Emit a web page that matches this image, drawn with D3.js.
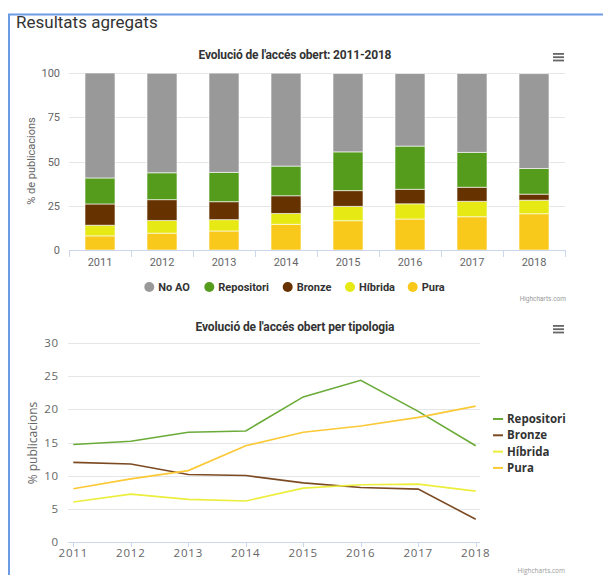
<!DOCTYPE html>
<html>
<head>
<meta charset="utf-8">
<script src="https://cdn.jsdelivr.net/npm/d3@7"></script>
<style>
body{margin:0;background:#fff;}
svg{display:block;font-family:Roboto, "Open Sans", sans-serif;}
</style>
</head>
<body>
<svg id="c" width="603" height="575"></svg>
<script>
// ---- data ----
const years = ["2011","2012","2013","2014","2015","2016","2017","2018"];
const noAO       = [59.3, 56.2, 56.1, 52.5, 44.3, 41.0, 44.6, 53.6];
const repositori = [14.7, 15.2, 16.55, 16.75, 21.9, 24.4, 19.7, 14.5];
const bronze     = [12.0, 11.75, 10.15, 10.0, 8.9, 8.2, 7.95, 3.4];
const hibrida    = [6.0, 7.2, 6.4, 6.15, 8.1, 8.6, 8.7, 7.65];
const pura       = [8.0, 9.5, 10.75, 14.5, 16.55, 17.5, 18.8, 20.5];
const barTicks = [0,25,50,75,100];
const lineTicks = [0,5,10,15,20,25,30];

const barSeries = [
  {name:"No AO", values:noAO, color:"#999999"},
  {name:"Repositori", values:repositori, color:"#559c1d"},
  {name:"Bronze", values:bronze, color:"#663300"},
  {name:"Híbrida", values:hibrida, color:"#e6e914"},
  {name:"Pura", values:pura, color:"#f8c81a"}
];
const lineSeries = [
  {name:"Repositori", values:repositori, color:"#6aab38"},
  {name:"Bronze", values:bronze, color:"#7b4a22"},
  {name:"Híbrida", values:hibrida, color:"#ecee3c"},
  {name:"Pura", values:pura, color:"#fbc935"}
];

const svg = d3.select("#c");

// frame
svg.append("line").attr("x1",8).attr("x2",603).attr("y1",14.5).attr("y2",14.5).attr("stroke","#6b9be3").attr("stroke-width",2);
svg.append("line").attr("x1",9).attr("x2",9).attr("y1",14).attr("y2",575).attr("stroke","#6b9be3").attr("stroke-width",2);
svg.append("text").attr("x",16).attr("y",28).attr("font-size",17).attr("fill","#333").text("Resultats agregats");

function menu(x,y){
  for(let i=0;i<3;i++) svg.append("rect").attr("x",x).attr("y",y+i*3.3).attr("width",11).attr("height",1.8).attr("fill","#666");
}

// ---- Chart 1: stacked columns ----
const g1 = svg.append("g");
const x1 = d3.scaleBand().domain(years).range([69,565]).paddingInner(0.516).paddingOuter(0.258);
const x1o = d3.scaleBand().domain(years).range([69,565]).padding(0);
const y1 = d3.scaleLinear().domain([0,100]).range([250,73]);

g1.append("text").attr("x",295).attr("y",59).attr("text-anchor","middle").attr("font-size",12).attr("font-weight","bold").attr("fill","#333").attr("textLength",193).text("Evolució de l'accés obert: 2011-2018");
menu(553,53);

g1.selectAll(".grid").data(barTicks.filter(d=>d>0)).join("line")
  .attr("x1",69).attr("x2",565).attr("y1",d=>Math.round(y1(d))+0.5).attr("y2",d=>Math.round(y1(d))+0.5)
  .attr("stroke","#e6e6e6");
g1.selectAll(".yl").data(barTicks).join("text")
  .attr("x",60).attr("y",d=>y1(d)+4).attr("text-anchor","end").attr("font-size",11).attr("fill","#666").text(d=>d);
g1.append("text").attr("transform","translate(35,161) rotate(-90)").attr("text-anchor","middle").attr("font-size",11).attr("fill","#666").text("% de publicacions");

// stack order: Pura at bottom
const stackOrder = barSeries.slice().reverse();
years.forEach((yr,i)=>{
  let base=0;
  stackOrder.forEach(s=>{
    const v=s.values[i];
    g1.append("rect").attr("x",x1(yr)).attr("width",x1.bandwidth())
      .attr("y",y1(base+v)).attr("height",y1(base)-y1(base+v))
      .attr("fill",s.color).attr("stroke","#fff").attr("stroke-opacity",0.6).attr("stroke-width",1);
    base+=v;
  });
});

// x axis
g1.append("line").attr("x1",69).attr("x2",565).attr("y1",250.5).attr("y2",250.5).attr("stroke","#ccd6eb");
const bounds = years.map(d=>x1o(d)).concat([565]);
g1.selectAll(".xt").data(bounds).join("line")
  .attr("x1",d=>Math.round(d)+0.5).attr("x2",d=>Math.round(d)+0.5).attr("y1",250).attr("y2",257).attr("stroke","#ccd6eb");
g1.selectAll(".xl").data(years).join("text")
  .attr("x",d=>x1(d)+x1.bandwidth()/2).attr("y",266).attr("text-anchor","middle").attr("font-size",11).attr("fill","#666").text(d=>d);

// legend
const legX = [149.3,209.3,287.7,350,412.7];
barSeries.forEach((s,i)=>{
  g1.append("circle").attr("cx",legX[i]).attr("cy",287).attr("r",5).attr("fill",s.color);
  g1.append("text").attr("x",legX[i]+9).attr("y",291).attr("font-size",11).attr("font-weight","bold").attr("fill","#333").text(s.name);
});
g1.append("text").attr("x",566).attr("y",301).attr("text-anchor","end").attr("font-size",6.5).attr("fill","#999").text("Highcharts.com");

// ---- Chart 2: lines ----
const g2 = svg.append("g").attr("font-family","'Open Sans', sans-serif");
const x2 = d3.scalePoint().domain(years).range([73.3,475.7]);
const y2 = d3.scaleLinear().domain([0,30]).range([541.7,343.3]);

g2.append("text").attr("x",295).attr("y",331).attr("text-anchor","middle").attr("font-size",12).attr("font-weight","bold").attr("fill","#333").attr("font-family","Roboto, sans-serif").attr("textLength",199).text("Evolució de l'accés obert per tipologia");
menu(553,325);

g2.selectAll(".grid").data(lineTicks.filter(d=>d>0)).join("line")
  .attr("x1",68).attr("x2",480).attr("y1",d=>Math.round(y2(d))+0.5).attr("y2",d=>Math.round(y2(d))+0.5)
  .attr("stroke","#e6e6e6");
g2.selectAll(".yl").data(lineTicks).join("text")
  .attr("x",59).attr("y",d=>y2(d)+4).attr("text-anchor","end").attr("font-size",11.5).attr("letter-spacing",0.8).attr("fill","#666").text(d=>d);
g2.append("text").attr("transform","translate(37,443) rotate(-90)").attr("text-anchor","middle").attr("font-size",12).attr("fill","#666").text("% publicacions");

g2.append("line").attr("x1",68).attr("x2",480).attr("y1",542.5).attr("y2",542.5).attr("stroke","#ccd6eb");
g2.selectAll(".xt").data(years).join("line")
  .attr("x1",d=>Math.round(x2(d))+0.5).attr("x2",d=>Math.round(x2(d))+0.5).attr("y1",542).attr("y2",547).attr("stroke","#ccd6eb");
g2.selectAll(".xl").data(years).join("text")
  .attr("x",d=>x2(d)).attr("y",557).attr("text-anchor","middle").attr("font-size",11.5).attr("letter-spacing",0.8).attr("fill","#666").text(d=>d);

const line = d3.line().x((d,i)=>x2(years[i])).y(d=>y2(d));
lineSeries.forEach(s=>{
  g2.append("path").attr("d",line(s.values)).attr("fill","none").attr("stroke",s.color).attr("stroke-width",1.6);
});

lineSeries.forEach((s,i)=>{
  const yy = 419 + i*16.3;
  g2.append("line").attr("x1",493).attr("x2",503).attr("y1",yy).attr("y2",yy).attr("stroke",s.color).attr("stroke-width",2);
  g2.append("text").attr("x",507).attr("y",yy+4).attr("font-size",11.5).attr("font-weight","bold").attr("fill","#333").text(s.name);
});
g2.append("text").attr("x",565).attr("y",573).attr("text-anchor","end").attr("font-size",6.5).attr("fill","#999").text("Highcharts.com");
</script>
</body>
</html>
